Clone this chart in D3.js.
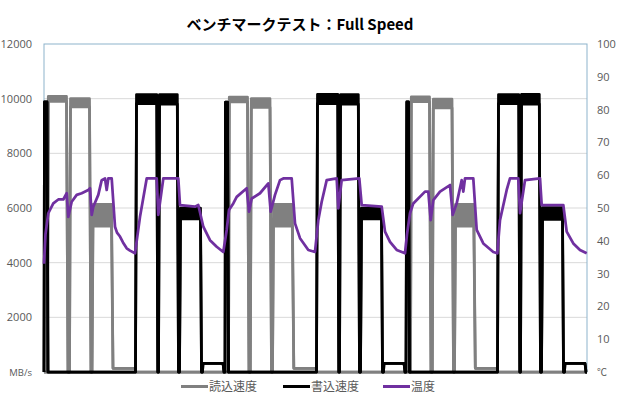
<!DOCTYPE html>
<html><head><meta charset="utf-8">
<script src="https://cdn.jsdelivr.net/npm/d3@7/dist/d3.min.js"></script>
<style>
body{margin:0;background:#fff;}
svg{display:block;font-family:"Open Sans","Noto Sans CJK JP",sans-serif;}
</style></head>
<body><svg id="c" width="620" height="400"></svg>
<script>
// ---- data (time units: arbitrary, 0..543) ----
const seriesNames = ["読込速度", "書込速度", "温度"];
const seriesColors = ["#808080", "#000000", "#7030A0"];
const leftTicks = [0, 2000, 4000, 6000, 8000, 10000, 12000];
const leftTickLabels = ["MB/s", "2000", "4000", "6000", "8000", "10000", "12000"];
const rightTicks = [0, 10, 20, 30, 40, 50, 60, 70, 80, 90, 100];
const rightTickLabels = ["℃", "10", "20", "30", "40", "50", "60", "70", "80", "90", "100"];

const readTime = [0,3.5,4.3,22.5,24,25.5,26.5,45.5,47,48,49,67.5,69,91,92,
 184.5,185.3,203.5,205,206.3,207.3,226,227.5,228.5,229.5,248.3,249.8,272,273,
 366.5,367.3,385.5,387,388.3,389.3,408,409.5,410.5,411.5,429.8,431.3,453,454,543];
const readHigh = [0,0,10080,10080,0,0,10000,10000,0,0,6130,6130,135,135,0,
 0,10060,10060,0,0,10000,10000,0,0,6130,6130,135,135,0,
 0,10070,10070,0,0,9980,9980,0,0,6130,6130,135,135,0,0];
const readLow = [0,0,9900,9900,0,0,9700,9700,0,0,5340,5340,135,135,0,
 0,9880,9880,0,0,9680,9680,0,0,5340,5340,135,135,0,
 0,9890,9890,0,0,9660,9660,0,0,5340,5340,135,135,0,0];

const writeTime = [0,0.5,3,4,91.5,92.5,112.8,113.8,114.5,115.5,133.3,134.5,135.5,136.5,156.5,157.5,158.5,159,179,180,
 181,181.5,183.5,184.5,272.5,273.5,293.8,294.8,295.5,296.5,314.3,315.5,316.5,317.5,337.5,338.5,339.5,340,360,361,
 362,362.8,364.5,365.5,453.5,454.5,474.8,475.8,476.5,477.5,495.3,496.5,497.5,498.5,518.5,519.5,520.5,521,541,542,543];
const writeHigh = [0,9880,9880,0,0,10150,10150,0,0,10150,10150,0,0,6000,6000,0,0,318,318,0,
 0,9870,9870,0,0,10160,10160,0,0,10150,10150,0,0,6000,6000,0,0,318,318,0,
 0,9880,9880,0,0,10150,10150,0,0,10160,10160,0,0,6010,6010,0,0,318,318,0,0];
const writeLow = [0,9880,9880,0,0,9820,9820,0,0,9800,9800,0,0,5600,5600,0,0,318,318,0,
 0,9870,9870,0,0,9820,9820,0,0,9800,9800,0,0,5600,5600,0,0,318,318,0,
 0,9880,9880,0,0,9820,9820,0,0,9800,9800,0,0,5580,5580,0,0,318,318,0,0];

const tempTime = [0,1.5,4.3,9.3,14.3,19.3,22.7,24.3,27.7,32.7,37.7,44.3,46,47.7,49.3,54.3,57.7,61,62.7,64.3,67.7,71,73,76,79,82.7,86,91,96,102.7,112.7,114.3,119.3,134.3,136,151,154.3,159.3,166,172.7,179.3,
 182.7,185,189.3,192.7,202.7,205,207.7,216,224.3,226.7,231,236,239.3,247.7,251,256,264.3,271,274.3,277.7,282.7,292.7,294.3,297.7,315.3,317.7,337.7,341,346,352.7,361,
 363,366,369.3,381,384.3,386.7,389.3,396,406,408.7,412.7,417.7,419.3,421,429.3,432.7,439.3,449.3,453.3,456,462.7,466,474.3,476,481,496,497.7,519.3,522.7,529.3,536,542.7];
const tempValue = [33,42,48.4,51.4,52.6,52.6,54.5,47.3,51.9,54,54.5,55.5,56,47.9,50.4,54,58.5,59,55.5,59,59,44.3,42.5,41.3,39.5,37.7,37,36.2,47.3,59,59,47.9,59,59,50.9,50.4,50.9,44.3,40.2,38.2,36.6,
 43.3,49.4,51.4,53.4,56,48.9,52.9,54.5,57.5,48.9,54,58.5,59,59,45.3,40.8,37.2,36.6,46.3,51.9,58.5,59,49.9,58.5,59,50.9,50.4,42.8,39.7,37.2,36.2,
 42,48.4,51.4,55,55,46.3,52.4,55,57,47.9,51.4,58.5,55,59,59,43.3,39.2,36.6,36.2,46.3,55.5,59,59,48.4,58.5,59,50.9,50.9,42.8,39.2,37.2,36.2];

// ---- layout ----
const L = 44, R = 587, T = 44, B = 372;
const svg = d3.select("#c");

const x = d3.scaleLinear().domain([0, 543]).range([L, R]);
const yL = d3.scaleLinear().domain([0, 12000]).range([B, T]);
const yR = d3.scaleLinear().domain([0, 100]).range([B, T]);

// gridlines
svg.append("g").selectAll("line").data(leftTicks.filter(d => d > 0 && d < 12000)).join("line")
  .attr("x1", L).attr("x2", R).attr("y1", d => yL(d)).attr("y2", d => yL(d))
  .attr("stroke", "#d9d9d9").attr("stroke-width", 1);

// plot border
svg.append("rect").attr("x", L).attr("y", T).attr("width", R - L).attr("height", B - T)
  .attr("fill", "none").attr("stroke", "#8db3cc").attr("stroke-width", 1);

// axes
const axL = svg.append("g").attr("transform", `translate(${L},0)`)
  .call(d3.axisLeft(yL).tickValues(leftTicks).tickSize(0).tickPadding(12)
    .tickFormat((d, i) => leftTickLabels[i]));
const axR = svg.append("g").attr("transform", `translate(${R},0)`)
  .call(d3.axisRight(yR).tickValues(rightTicks).tickSize(0).tickPadding(10)
    .tickFormat((d, i) => rightTickLabels[i]));
[axL, axR].forEach(a => {
  a.select(".domain").remove();
  a.selectAll("text").attr("fill", "#595959").style("font-size", "11px")
    .style("font-family", "'Open Sans','Noto Sans CJK JP',sans-serif");
});
axL.selectAll("text").filter(d => d === 0).style("font-size", "9.5px");
axR.selectAll("text").filter(d => d === 0).style("font-size", "10px");

// series
function drawBand(times, hi, lo, color) {
  const pts = times.map((t, i) => ({t, hi: hi[i], lo: lo[i]}));
  svg.append("path").datum(pts)
    .attr("d", d3.area().x(d => x(d.t)).y0(d => yL(d.lo)).y1(d => yL(d.hi)))
    .attr("fill", color);
  ["hi", "lo"].forEach(k => {
    svg.append("path").datum(pts)
      .attr("d", d3.line().x(d => x(d.t)).y(d => yL(d[k])))
      .attr("fill", "none").attr("stroke", color).attr("stroke-width", 2.75)
      .attr("stroke-linejoin", "round");
  });
}
drawBand(readTime, readHigh, readLow, seriesColors[0]);
drawBand(writeTime, writeHigh, writeLow, seriesColors[1]);

svg.append("path").datum(tempTime.map((t, i) => ({t, v: tempValue[i]})))
  .attr("d", d3.line().x(d => x(d.t)).y(d => yR(d.v)))
  .attr("fill", "none").attr("stroke", seriesColors[2]).attr("stroke-width", 2.75)
  .attr("stroke-linejoin", "round");

// title
svg.append("text").attr("x", 300).attr("y", 30).attr("text-anchor", "middle")
  .style("font-family", "'Noto Sans CJK JP',sans-serif").style("font-size", "15px")
  .style("font-weight", "bold").attr("fill", "#000")
  .text("ベンチマークテスト：Full Speed");

// legend
const legX = [181, 283, 383];
const leg = svg.append("g");
seriesNames.forEach((n, i) => {
  leg.append("line").attr("x1", legX[i]).attr("x2", legX[i] + 27)
    .attr("y1", 386.5).attr("y2", 386.5)
    .attr("stroke", seriesColors[i]).attr("stroke-width", 3);
  leg.append("text").attr("x", legX[i] + 28).attr("y", 391)
    .style("font-family", "'Noto Sans CJK JP',sans-serif").style("font-size", "12px")
    .attr("fill", "#595959").text(n);
});
</script></body></html>
